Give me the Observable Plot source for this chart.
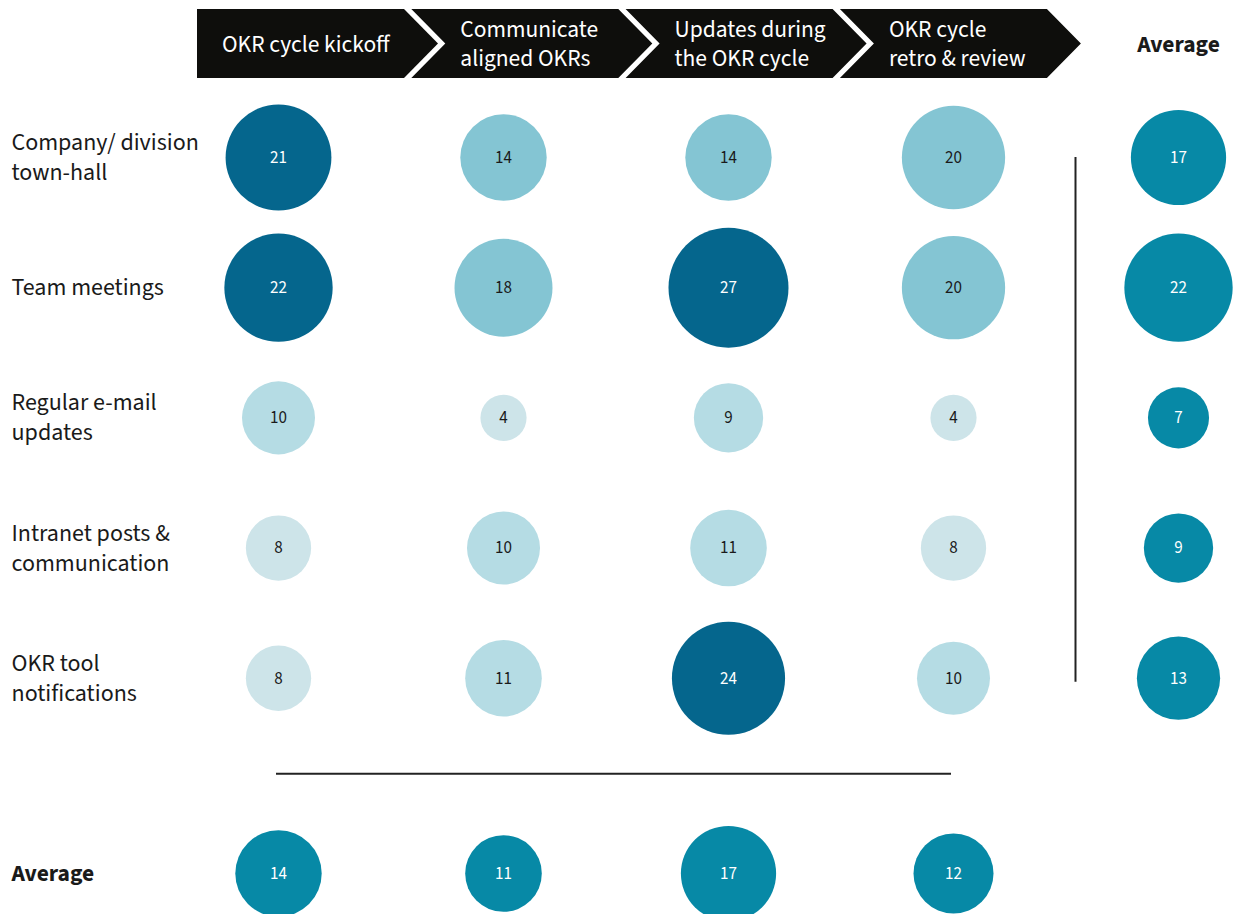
<!DOCTYPE html>
<html><head><meta charset="utf-8">
<script src="https://cdn.jsdelivr.net/npm/d3@7"></script>
<script src="https://cdn.jsdelivr.net/npm/@observablehq/plot@0.6"></script>
<style>body{margin:0;background:#fff} #chart{width:1235px;height:914px}</style>
</head><body><div id="chart"></div>
<script>
// ---- data ----
const stages = ["OKR cycle kickoff", "Communicate aligned OKRs", "Updates during the OKR cycle", "OKR cycle retro & review"];
const stageLabels = ["OKR cycle kickoff", "Communicate\naligned OKRs", "Updates during\nthe OKR cycle", "OKR cycle\nretro & review"];
const channels = ["Company/ division town-hall", "Team meetings", "Regular e-mail updates", "Intranet posts & communication", "OKR tool notifications"];
const channelLabels = ["Company/ division\ntown-hall", "Team meetings", "Regular e-mail\nupdates", "Intranet posts &\ncommunication", "OKR tool\nnotifications"];
const kickoff = [21, 22, 10, 8, 8];
const communicate = [14, 18, 4, 10, 11];
const updates = [14, 27, 9, 11, 24];
const retro = [20, 20, 4, 8, 10];
const channelAverage = [17, 22, 7, 9, 13];
const stageAverage = [14, 11, 17, 12];
const averageLabel = "Average";

// ---- tables ----
const series = [kickoff, communicate, updates, retro];
const cells = stages.flatMap((s, j) => channels.map((c, i) => ({stage: s, row: i, value: series[j][i]})));
const avgCol = channelAverage.map((v, i) => ({stage: averageLabel, row: i, value: v}));
const avgRow = stageAverage.map((v, j) => ({stage: stages[j], row: channels.length + 0.5, value: v}));
const rowLabels = channelLabels.map((t, i) => ({row: i, text: t}));

const FONT = "'Source Sans Pro','Source Sans 3',Lato,sans-serif";
const TEAL = "#0789a6";
const INK = "#1a1a1a";

function headerMark() {
  const g = d3.create("svg:g");
  const top = 9, bot = 78, mid = (top + bot) / 2, d = 34, x0 = 197, pitch = 214.3, w = 207;
  stageLabels.forEach((lab, i) => {
    const a = x0 + i * pitch, b = a + w;
    const pts = i === 0
      ? [[a, top], [b, top], [b + d, mid], [b, bot], [a, bot]]
      : [[a, top], [b, top], [b + d, mid], [b, bot], [a, bot], [a + d, mid]];
    g.append("polygon").attr("points", pts.map(p => p.join(",")).join(" ")).attr("fill", "#0e0e0c");
    const lines = lab.split("\n");
    const tx = i === 0 ? a + 25 : a + 49;
    const t = g.append("text").attr("fill", "white").attr("font-size", 23.5)
      .attr("font-family", FONT).attr("text-anchor", "start");
    lines.forEach((ln, k) => t.append("tspan")
      .attr("x", tx).attr("y", mid + (k - (lines.length - 1) / 2) * 29.5).attr("dy", "0.35em").text(ln));
  });
  return g.node();
}

const chart = Plot.plot({
  width: 1235,
  height: 914,
  margin: 0,
  style: {fontFamily: FONT, background: "white"},
  x: {type: "point", domain: [...stages, averageLabel], range: [276, 1179], padding: 0, axis: null},
  y: {type: "linear", domain: [0, channels.length + 0.5], range: [157, 873], axis: null},
  r: {type: "sqrt", domain: [0, 27], range: [0, 60]},
  color: {type: "threshold", domain: [9, 13, 21], range: ["#cde4e9", "#b5dce4", "#84c5d3", "#05668d"]},
  marks: [
    headerMark,
    Plot.text([averageLabel], {x: d => d, frameAnchor: "top", dy: 44, lineAnchor: "middle", text: d => d, fontSize: 23.5, fontWeight: "bold", fill: INK}),
    Plot.text(rowLabels, {y: "row", text: "text", frameAnchor: "left", dx: 11, dy: -2, textAnchor: "start", fontSize: 24, lineHeight: 1.25, fill: INK}),
    Plot.text([averageLabel], {y: () => channels.length + 0.5, text: d => d, frameAnchor: "left", dx: 11, textAnchor: "start", fontSize: 23.5, fontWeight: "bold", fill: INK}),
    Plot.ruleX([averageLabel], {x: d => d, dx: -103, y1: () => 0, y2: () => channels.length - 1 + 0.03, stroke: "#222", strokeWidth: 2}),
    Plot.ruleY([channels.length - 0.25], {y: d => d, x1: () => stages[0], x2: () => stages[3], dx: -2, dy: -2, stroke: "#222", strokeWidth: 2}),
    Plot.dot(cells, {x: "stage", y: "row", r: "value", fill: "value", stroke: null}),
    Plot.dot(avgCol, {x: "stage", y: "row", r: "value", fill: TEAL}),
    Plot.dot(avgRow, {x: "stage", y: "row", r: "value", fill: TEAL}),
    Plot.text(cells, {x: "stage", y: "row", text: d => String(d.value), fontSize: 17, fill: d => d.value >= 21 ? "white" : INK}),
    Plot.text(avgCol, {x: "stage", y: "row", text: d => String(d.value), fontSize: 17, fill: "white"}),
    Plot.text(avgRow, {x: "stage", y: "row", text: d => String(d.value), fontSize: 17, fill: "white"})
  ]
});
document.getElementById("chart").append(chart);
</script>
</body></html>
